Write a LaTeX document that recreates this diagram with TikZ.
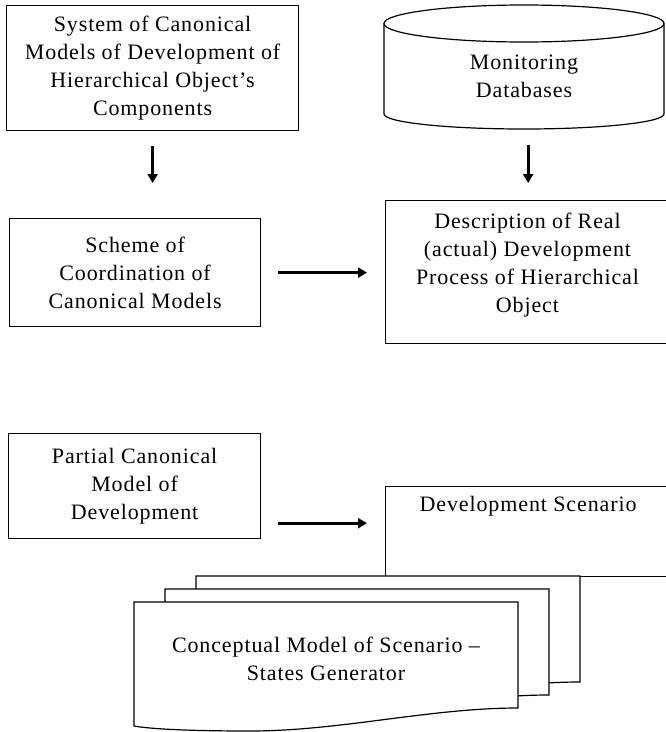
\documentclass[tikz,border=0pt]{standalone}
\usepackage{fontspec}
\setmainfont{Liberation Serif}[LetterSpace=4]
\usetikzlibrary{arrows.meta}
\begin{document}
\begin{tikzpicture}[x=1pt,y=-1pt,
  txt/.style={font=\fontsize{22}{28}\selectfont, align=center, inner sep=0pt},
  box/.style={txt, draw, line width=1.2pt, fill=white, anchor=north west},
  outl/.style={draw, line width=1.2pt, fill=white},
  arr/.style={line width=2.6pt, -{Triangle[length=9pt,width=10pt]}}]
\useasboundingbox (0,0) rectangle (665,732);

% top row
\node[box, minimum width=292, minimum height=125] (sys) at (6,5)
  {System of Canonical\\Models of Development of\\Hierarchical Object's\\Components};

\path[outl] (384,23.5) -- (384,114) arc[start angle=180, end angle=0, x radius=140, y radius=15]
  -- (664,23.5) arc[start angle=0, end angle=-180, x radius=140, y radius=18.5] -- cycle;
\draw[line width=1.2pt] (384,23.5) arc[start angle=180, end angle=0, x radius=140, y radius=18.5];
\node[txt, minimum width=280, minimum height=124, anchor=north west] (db) at (384,5) {};
\node[txt] (dbt) at (524,76) {Monitoring\\Databases};

% second row
\node[box, minimum width=251, minimum height=108] (sch) at (9,218)
  {Scheme of\\Coordination of\\Canonical Models};
\node[box, minimum width=285, minimum height=143] (desc) at (385,200) {};
\node[txt] (desct) at (527.5,265) {Description of Real\\(actual) Development\\Process of Hierarchical\\Object};

\draw[arr, shorten <=15pt, shorten >=35pt] (sys.south) -- (sys.south |- sch.north);
\draw[arr, shorten <=16pt, shorten >=17pt] ([xshift=4pt]db.south) -- ([xshift=4pt]db.south |- desc.north);
\draw[arr, shorten <=17pt, shorten >=18pt] (sch.east) -- (sch.east -| desc.west);

% third row
\node[box, minimum width=252, minimum height=105] (part) at (8,433)
  {Partial Canonical\\Model of\\Development};
\node[box, minimum width=285, minimum height=90,
  label={[txt, anchor=north, yshift=-10pt]north:Development Scenario}] (dev) at (385,486) {};

\draw[arr, shorten <=17pt, shorten >=18pt] ([yshift=16pt]part.south east) -- ([yshift=16pt]part.south east -| dev.west);

% stacked documents
\foreach \dx/\dy in {62/-26, 31/-13, 0/0}{
  \begin{scope}[shift={(\dx,\dy)}]
    \path[outl] (134,602) -- (518,602) -- (518,708)
      .. controls (430,708) and (340,731) .. (250,731)
      .. controls (190,731) and (150,729) .. (134,726) -- cycle;
  \end{scope}
}
\node[txt] (cm) at (326,659) {Conceptual Model of Scenario --\\States Generator};
\end{tikzpicture}
\end{document}
